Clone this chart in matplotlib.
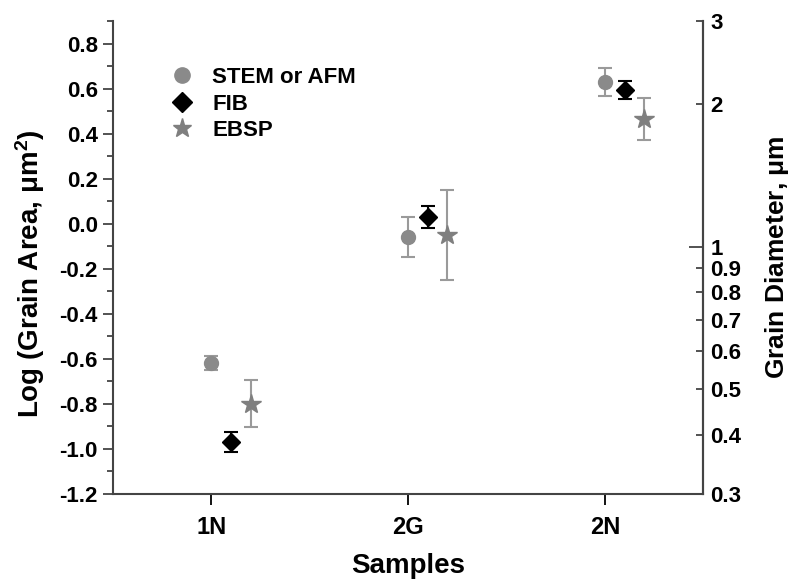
import matplotlib
matplotlib.use("Agg")
import matplotlib.pyplot as plt
from matplotlib.ticker import FixedLocator, FixedFormatter
from matplotlib.lines import Line2D

plt.rcParams['font.family'] = ['Liberation Sans', 'DejaVu Sans']
plt.rcParams['font.weight'] = 'bold'
plt.rcParams['mathtext.fontset'] = 'custom'
plt.rcParams['mathtext.rm'] = 'Liberation Sans'
plt.rcParams['mathtext.bf'] = 'Liberation Sans:bold'
plt.rcParams['mathtext.default'] = 'rm'

# ---- data ----
samples = ['1N', '2G', '2N']
stem_afm = [-0.62, -0.06, 0.63]
stem_afm_err = [0.03, 0.09, 0.063]
fib = [-0.97, 0.03, 0.593]
fib_err = [0.045, 0.05, 0.04]
ebsp = [-0.80, -0.05, 0.465]
ebsp_err = [0.105, 0.20, 0.095]

left_ticks = [-1.2, -1.0, -0.8, -0.6, -0.4, -0.2, 0.0, 0.2, 0.4, 0.6, 0.8]
right_major = [1]
right_minor = [0.3, 0.4, 0.5, 0.6, 0.7, 0.8, 0.9, 2, 3]

fig = plt.figure(figsize=(7.91, 5.83), dpi=100)
ax = fig.add_axes([0.143, 0.153, 0.746, 0.811])

x = list(range(1, len(samples) + 1))
spine_c = '#444444'
gray = '#8a8a8a'
egray = '#9a9a9a'
star_c = '#7f7f7f'

ax.errorbar(x, stem_afm, yerr=stem_afm_err, fmt='o', color=gray, ms=10,
            ecolor=egray, elinewidth=1.5, capsize=5, capthick=1.5, zorder=3)
ax.errorbar([v + 0.1 for v in x], fib, yerr=fib_err, fmt='D', color='black', ms=9,
            ecolor='black', elinewidth=1.5, capsize=5, capthick=1.5, zorder=3)
ax.errorbar([v + 0.2 for v in x], ebsp, yerr=ebsp_err, fmt='*', color=star_c, ms=15,
            ecolor=egray, elinewidth=1.5, capsize=5, capthick=1.5, zorder=3)

ax.set_xlim(0.5, 3.5)
ax.set_ylim(-1.2, 0.9)
ax.set_xticks(x)
ax.set_xticklabels(samples, fontsize=17, fontweight='bold')
ax.set_yticks(left_ticks)
ax.set_yticklabels(['%.1f' % v for v in left_ticks], fontsize=16, fontweight='bold')
ax.yaxis.set_minor_locator(FixedLocator([v + 0.1 for v in left_ticks]))
ax.tick_params(axis='y', which='major', direction='out', length=7, width=1.3, color=spine_c, pad=4)
ax.tick_params(axis='y', which='minor', direction='out', length=4, width=1.3, color=spine_c)
ax.tick_params(axis='x', which='major', direction='out', length=8, width=1.3, color='black', pad=8)

for s in ['left', 'bottom', 'right']:
    ax.spines[s].set_color(spine_c)
    ax.spines[s].set_linewidth(1.5)
ax.spines['top'].set_visible(False)

ax.set_xlabel('Samples', fontsize=20, fontweight='bold', labelpad=10)
ax.set_ylabel(r'Log (Grain Area, $\mathrm{μm^2}$)', fontsize=20, fontweight='bold')
ax.yaxis.set_label_coords(-0.112, 0.465)

ax2 = ax.twinx()
ax2.set_yscale('log')
ax2.set_ylim(0.3, 3)
ax2.yaxis.set_major_locator(FixedLocator(right_major))
ax2.yaxis.set_major_formatter(FixedFormatter([str(v) for v in right_major]))
ax2.yaxis.set_minor_locator(FixedLocator(right_minor))
ax2.yaxis.set_minor_formatter(FixedFormatter([str(v) for v in right_minor]))
ax2.tick_params(axis='y', which='major', direction='in', length=10, width=1.3, color=spine_c,
                labelsize=16, pad=5)
ax2.tick_params(axis='y', which='minor', direction='in', length=5, width=1.3, color=spine_c,
                labelsize=16, pad=5)
for lbl in ax2.get_yticklabels(which='both'):
    lbl.set_fontweight('bold')
for s in ['top', 'left', 'bottom']:
    ax2.spines[s].set_visible(False)
ax2.spines['right'].set_color(spine_c)
ax2.spines['right'].set_linewidth(1.5)
ax2.set_ylabel(r'Grain Diameter, $\mathrm{μm}$', fontsize=19, fontweight='bold', labelpad=16)

handles = [
    Line2D([], [], linestyle='none', marker='o', color=gray, ms=11),
    Line2D([], [], linestyle='none', marker='D', color='black', ms=10),
    Line2D([], [], linestyle='none', marker='*', color=star_c, ms=14),
]
labels = ['STEM or AFM', 'FIB', 'EBSP']
ax.legend(handles, labels, loc='upper left', bbox_to_anchor=(0.055, 0.945), frameon=False,
          prop={'size': 16, 'weight': 'bold'}, handletextpad=0.6,
          labelspacing=0.25, handlelength=1.5)

fig.savefig('out.png', dpi=100)
